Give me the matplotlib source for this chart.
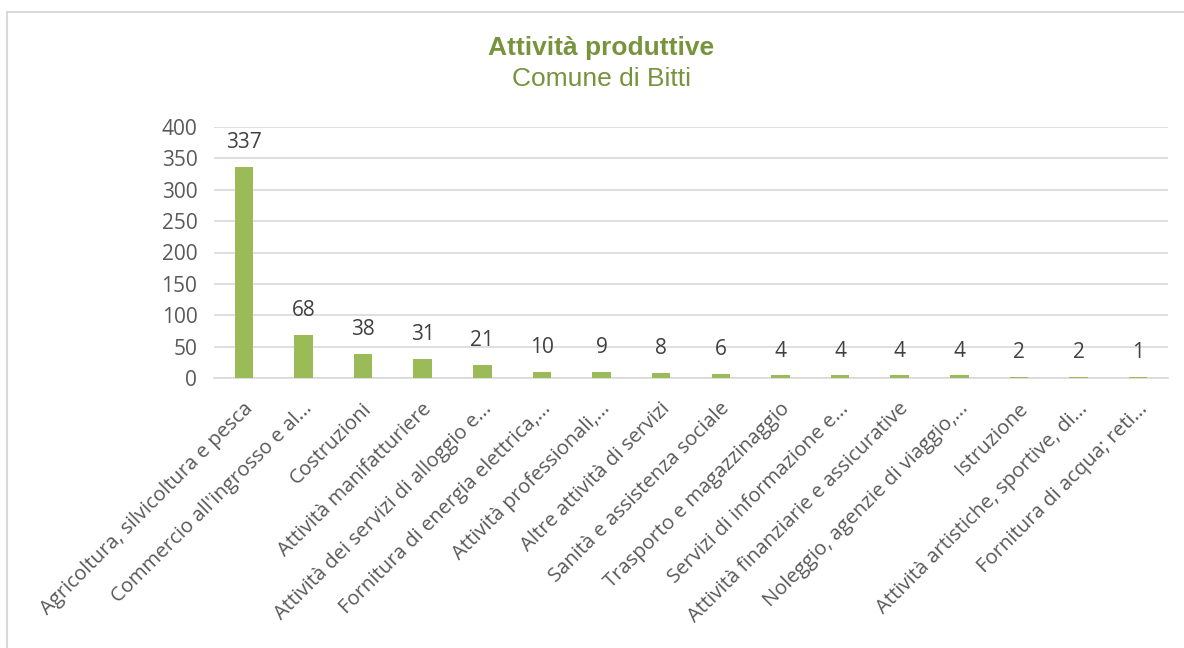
import matplotlib
matplotlib.use("Agg")
import matplotlib.pyplot as plt
from matplotlib.patches import Rectangle
from matplotlib.transforms import ScaledTranslation

categories = [
    "Agricoltura, silvicoltura e pesca",
    "Commercio all'ingrosso e al...",
    "Costruzioni",
    "Attività manifatturiere",
    "Attività dei servizi di alloggio e...",
    "Fornitura di energia elettrica,...",
    "Attività professionali,...",
    "Altre attività di servizi",
    "Sanità e assistenza sociale",
    "Trasporto e magazzinaggio",
    "Servizi di informazione e...",
    "Attività finanziarie e assicurative",
    "Noleggio, agenzie di viaggio,...",
    "Istruzione",
    "Attività artistiche, sportive, di...",
    "Fornitura di acqua; reti...",
]
values = [337, 68, 38, 31, 21, 10, 9, 8, 6, 4, 4, 4, 4, 2, 2, 1]
yticks = [0, 50, 100, 150, 200, 250, 300, 350, 400]

W, H = 1184, 648
fig = plt.figure(figsize=(W / 100, H / 100), dpi=100)
fig.patch.set_facecolor("white")
fig.add_artist(Rectangle((7 / W, -10 / H), (W + 10) / W, (H - 12 + 10) / H,
                         transform=fig.transFigure, fill=False,
                         edgecolor="#D9D9D9", linewidth=1.5))

ax = fig.add_axes([214 / W, (H - 378) / H, (1168 - 214) / W, (378 - 127) / H])
x = list(range(len(categories)))
ax.bar(x, values, width=0.31, color="#9BBB59", zorder=3)
ax.set_xlim(-0.5, len(categories) - 0.5)
ax.set_ylim(0, 400)
ax.set_yticks(yticks)
ax.grid(axis="y", color="#D9D9D9", linewidth=1.2, zorder=0)
for s in ["top", "right", "left"]:
    ax.spines[s].set_visible(False)
ax.spines["bottom"].set_color("#D9D9D9")
ax.spines["bottom"].set_linewidth(1.2)
ax.tick_params(axis="both", length=0, colors="#595959")
ax.tick_params(axis="y", pad=12, labelsize=15)
ax.tick_params(axis="x", pad=15)
ax.set_xticks(x)
ax.set_xticklabels(categories, rotation=45, ha="right", rotation_mode="anchor",
                   fontsize=14.6, color="#595959", fontfamily="Open Sans")
shift = ScaledTranslation(-1 / 100, 0, fig.dpi_scale_trans)
for lbl in ax.get_xticklabels():
    lbl.set_transform(lbl.get_transform() + shift)
for lbl in ax.get_yticklabels():
    lbl.set_fontfamily("Open Sans")

for xi, v in zip(x, values):
    ax.annotate(str(v), (xi, v), xytext=(0, 10), textcoords="offset points",
                ha="center", va="bottom", fontsize=15, color="#404040",
                fontfamily="Open Sans")

fig.text(601 / W, 1 - 48 / H, "Attività produttive", ha="center", va="center",
         fontsize=19, fontweight="bold", color="#77933C", fontfamily="Liberation Sans")
fig.text(601 / W, 1 - 79 / H, "Comune di Bitti", ha="center", va="center",
         fontsize=19, color="#77933C", fontfamily="Liberation Sans")

fig.savefig("out.png", dpi=100)
